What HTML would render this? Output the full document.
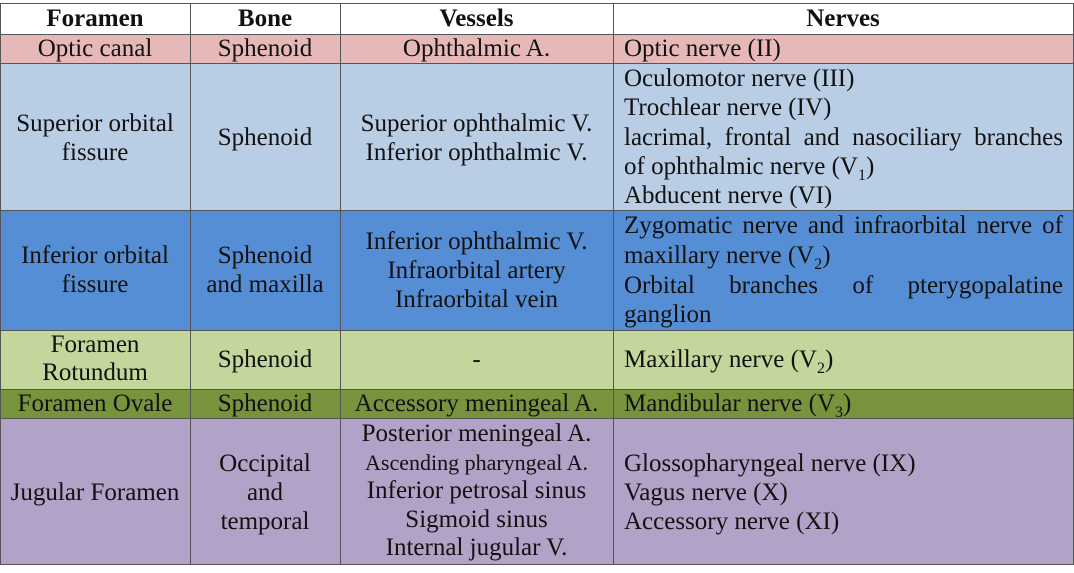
<!DOCTYPE html><html><head><style>
body{margin:0;width:1074px;height:573px;background:#fff;position:relative;overflow:hidden;font-family:"Liberation Serif",serif;color:#111;font-size:25px}
.r{position:absolute;left:0;width:1074px}
.v{position:absolute;top:3px;height:562px;width:1px;background:#555}
.h{position:absolute;left:0;width:1074px;height:1px;background:#555}
.t{position:absolute;white-space:nowrap;line-height:29px}
.c{text-align:center}
.j{text-align:justify;text-align-last:justify;white-space:normal}
sub{font-size:16px;line-height:0}
</style></head><body>
<div class="r" style="top:34px;height:29px;background:#e6b9b8"></div>
<div class="r" style="top:63px;height:147px;background:#b9cde5"></div>
<div class="r" style="top:210px;height:120px;background:#558ed5"></div>
<div class="r" style="top:330px;height:59px;background:#c3d69b"></div>
<div class="r" style="top:389px;height:29px;background:#77933c"></div>
<div class="r" style="top:418px;height:146px;background:#b3a2c7"></div>
<div class="h" style="top:3px"></div><div class="h" style="top:34px"></div><div class="h" style="top:63px"></div><div class="h" style="top:210px"></div><div class="h" style="top:330px"></div><div class="h" style="top:389px"></div><div class="h" style="top:418px"></div><div class="h" style="top:564px"></div>
<div class="v" style="left:0"></div><div class="v" style="left:190px"></div><div class="v" style="left:340px"></div><div class="v" style="left:613px"></div><div class="v" style="left:1073px"></div>
<div class="t c" style="left:0;width:190px;top:4px;font-weight:bold">Foramen</div>
<div class="t c" style="left:190px;width:150px;top:4px;font-weight:bold">Bone</div>
<div class="t c" style="left:340px;width:273px;top:4px;font-weight:bold">Vessels</div>
<div class="t c" style="left:613px;width:460px;top:4px;font-weight:bold">Nerves</div>
<div class="t c" style="left:0;width:190px;top:34px">Optic canal</div>
<div class="t c" style="left:190px;width:150px;top:34px">Sphenoid</div>
<div class="t c" style="left:340px;width:273px;top:34px">Ophthalmic A.</div>
<div class="t" style="left:624px;top:34px">Optic nerve (II)</div>
<div class="t c" style="left:0;width:190px;top:109px">Superior orbital<br>fissure</div>
<div class="t c" style="left:190px;width:150px;top:123px">Sphenoid</div>
<div class="t c" style="left:340px;width:273px;top:109px">Superior ophthalmic V.<br>Inferior ophthalmic V.</div>
<div class="t" style="left:624px;top:64px">Oculomotor nerve (III)<br>Trochlear nerve (IV)</div>
<div class="t j" style="left:624px;top:123px;width:439px">lacrimal, frontal and nasociliary branches</div>
<div class="t" style="left:624px;top:152px">of ophthalmic nerve (V<sub>1</sub>)</div>
<div class="t" style="left:624px;top:181px">Abducent nerve (VI)</div>
<div class="t c" style="left:0;width:190px;top:241px">Inferior orbital<br>fissure</div>
<div class="t c" style="left:190px;width:150px;top:241px">Sphenoid<br>and maxilla</div>
<div class="t c" style="left:340px;width:273px;top:227px">Inferior ophthalmic V.<br>Infraorbital artery<br>Infraorbital vein</div>
<div class="t j" style="left:624px;top:211px;width:439px">Zygomatic nerve and infraorbital nerve of</div>
<div class="t" style="left:624px;top:241px">maxillary nerve (V<sub>2</sub>)</div>
<div class="t j" style="left:624px;top:271px;width:439px">Orbital branches of pterygopalatine</div>
<div class="t" style="left:624px;top:300px">ganglion</div>
<div class="t c" style="left:0;width:190px;top:331px;line-height:28px">Foramen<br>Rotundum</div>
<div class="t c" style="left:190px;width:150px;top:345px">Sphenoid</div>
<div class="t c" style="left:340px;width:273px;top:345px">-</div>
<div class="t" style="left:624px;top:345px">Maxillary nerve (V<sub>2</sub>)</div>
<div class="t c" style="left:0;width:190px;top:389px">Foramen Ovale</div>
<div class="t c" style="left:190px;width:150px;top:389px">Sphenoid</div>
<div class="t c" style="left:340px;width:273px;top:389px">Accessory meningeal A.</div>
<div class="t" style="left:624px;top:389px">Mandibular nerve (V<sub>3</sub>)</div>
<div class="t c" style="left:0;width:190px;top:478px">Jugular Foramen</div>
<div class="t c" style="left:190px;width:150px;top:449px">Occipital<br>and<br>temporal</div>
<div class="t c" style="left:340px;width:273px;top:420px;line-height:28.5px">Posterior meningeal A.<br><span style="font-size:22px">Ascending pharyngeal A.</span><br>Inferior petrosal sinus<br>Sigmoid sinus<br>Internal jugular V.</div>
<div class="t" style="left:624px;top:449px">Glossopharyngeal nerve (IX)<br>Vagus nerve (X)<br>Accessory nerve (XI)</div>
</body></html>
